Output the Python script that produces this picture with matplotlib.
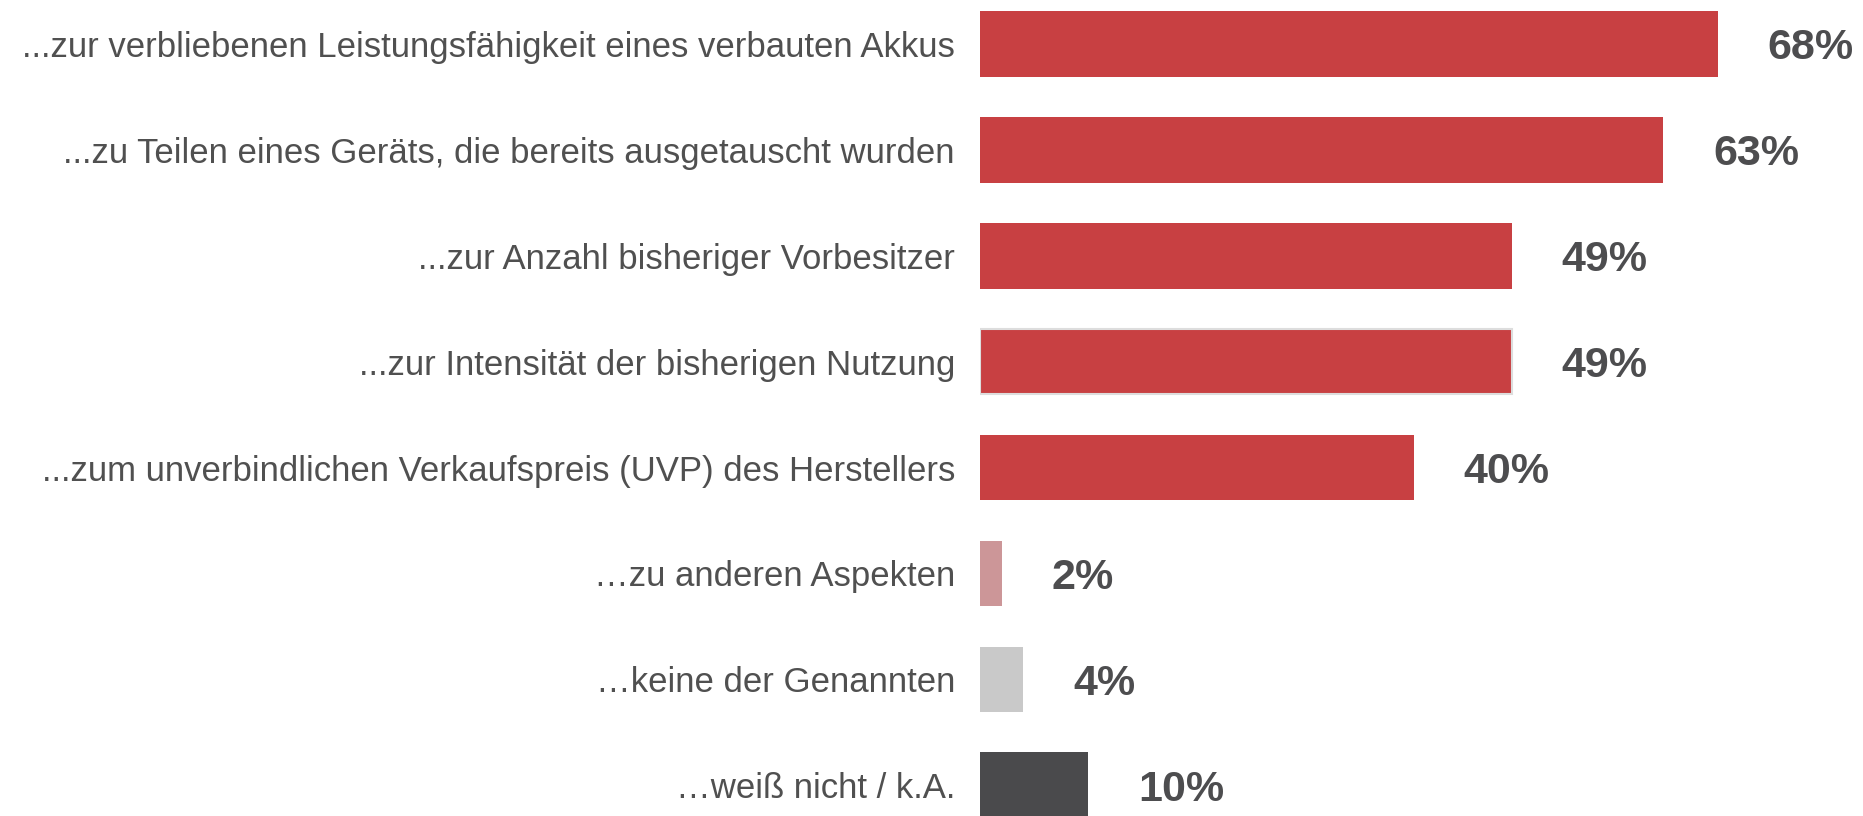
import matplotlib.pyplot as plt

labels = [
    "...zur verbliebenen Leistungsfähigkeit eines verbauten Akkus",
    "...zu Teilen eines Geräts, die bereits ausgetauscht wurden",
    "...zur Anzahl bisheriger Vorbesitzer",
    "...zur Intensität der bisherigen Nutzung",
    "...zum unverbindlichen Verkaufspreis (UVP) des Herstellers",
    "\u2026zu anderen Aspekten",
    "\u2026keine der Genannten",
    "\u2026weiß nicht / k.A.",
]
values = [68, 63, 49, 49, 40, 2, 4, 10]
colors = ["#C84042"] * 5 + ["#CC9698", "#C9C9C9", "#4A4A4C"]
edges = ["none", "none", "none", "#DDDDDD", "none", "none", "none", "none"]

plt.rcParams["font.family"] = ["Liberation Sans", "DejaVu Sans"]
text_color = "#505050"

fig = plt.figure(figsize=(18.63, 8.16), dpi=100)
ax = fig.add_axes([0.526, 0.0, 0.474, 1.0])

y = list(range(len(values)))
ax.barh(y, values, height=0.62, color=colors, edgecolor=edges, linewidth=1.5)

ax.set_ylim(7.29, -0.415)
ax.set_xlim(0, 81.4)

for yi, v in zip(y, values):
    ax.text(v + 4.6, yi, f"{v}%", va="center_baseline", ha="left",
            fontsize=31, fontweight="bold", color="#4D4D4F")

ax.set_yticks(y)
ax.set_yticklabels(labels, fontsize=25, color=text_color)
ax.tick_params(axis="y", length=0, pad=18)
ax.set_xticks([])
for s in ax.spines.values():
    s.set_visible(False)

plt.savefig("out.png", dpi=100)
